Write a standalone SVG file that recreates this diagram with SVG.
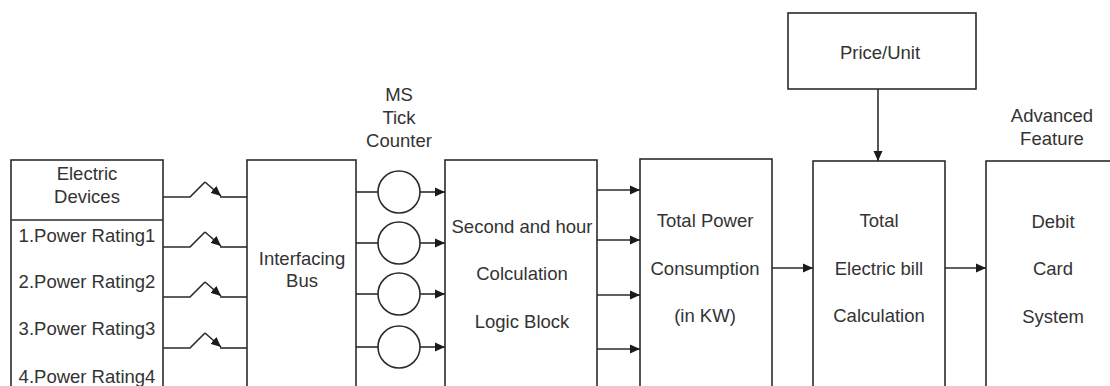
<svg xmlns="http://www.w3.org/2000/svg" width="1110" height="386" viewBox="0 0 1110 386">
<style>
.box{fill:#fff;stroke:#2b2b2b;stroke-width:1.6}
.ln{fill:none;stroke:#2b2b2b;stroke-width:1.6}
.ar{fill:none;stroke:#2b2b2b;stroke-width:1.6;marker-end:url(#ah)}
text{font-family:"Liberation Sans",Arial,sans-serif;font-size:18.5px;fill:#333;text-anchor:middle}
</style>
<defs>
<marker id="ah" viewBox="0 0 10 10" refX="10" refY="5" markerWidth="10" markerHeight="10" markerUnits="userSpaceOnUse" orient="auto">
<path d="M0,0.5 L10,5 L0,9.5 Z" fill="#1a1a1a"/>
</marker>
</defs>
<rect width="1110" height="386" fill="#fff"/>

<g id="electric-devices">
<rect class="box" x="11" y="160" width="152" height="240"/>
<line class="ln" x1="11" y1="220" x2="163" y2="220"/>
<text x="87" y="180">Electric</text>
<text x="87" y="203">Devices</text>
<text x="87" y="242">1.Power Rating1</text>
<text x="87" y="288">2.Power Rating2</text>
<text x="87" y="335">3.Power Rating3</text>
<text x="87" y="383">4.Power Rating4</text>
</g>

<g id="interfacing-bus">
<rect class="box" x="247" y="160" width="109" height="240"/>
<text x="302" y="265">Interfacing</text>
<text x="302" y="287">Bus</text>
</g>

<g id="ms-tick-counter">
<text x="399" y="101">MS</text>
<text x="399" y="124">Tick</text>
<text x="399" y="147">Counter</text>
<circle class="box" cx="399" cy="192" r="21"/>
<circle class="box" cx="399" cy="243" r="21"/>
<circle class="box" cx="399" cy="294" r="21"/>
<circle class="box" cx="399" cy="347" r="21"/>
</g>

<g id="logic-block">
<rect class="box" x="445" y="160" width="152" height="240"/>
<text x="522" y="233">Second and hour</text>
<text x="522" y="280">Colculation</text>
<text x="522" y="328">Logic Block</text>
</g>

<g id="total-power">
<rect class="box" x="640" y="159" width="132" height="241"/>
<text x="705" y="227">Total Power</text>
<text x="705" y="275">Consumption</text>
<text x="705" y="322">(in KW)</text>
</g>

<g id="price-unit">
<rect class="box" x="788" y="13" width="188" height="76"/>
<text x="880" y="59">Price/Unit</text>
</g>

<g id="electric-bill">
<rect class="box" x="813" y="161" width="132" height="239"/>
<text x="879" y="227">Total</text>
<text x="879" y="275">Electric bill</text>
<text x="879" y="322">Calculation</text>
</g>

<g id="debit-card">
<text x="1052" y="122">Advanced</text>
<text x="1052" y="145">Feature</text>
<rect class="box" x="986" y="161" width="140" height="239"/>
<text x="1053" y="228">Debit</text>
<text x="1053" y="275">Card</text>
<text x="1053" y="323">System</text>
</g>

<g id="connectors">
<!-- switches -->
<polyline class="ln" points="163,197 190,197 205,182"/>
<line class="ar" x1="205" y1="182" x2="221" y2="196"/>
<line class="ln" x1="220" y1="197" x2="247" y2="197"/>

<polyline class="ln" points="163,247 190,247 205,232"/>
<line class="ar" x1="205" y1="232" x2="221" y2="246"/>
<line class="ln" x1="220" y1="247" x2="247" y2="247"/>

<polyline class="ln" points="163,297 190,297 205,282"/>
<line class="ar" x1="205" y1="282" x2="221" y2="296"/>
<line class="ln" x1="220" y1="297" x2="247" y2="297"/>

<polyline class="ln" points="163,348 190,348 205,333"/>
<line class="ar" x1="205" y1="333" x2="221" y2="347"/>
<line class="ln" x1="220" y1="348" x2="247" y2="348"/>

<!-- bus to counters -->
<line class="ln" x1="356" y1="192" x2="378" y2="192"/>
<line class="ln" x1="356" y1="243" x2="378" y2="243"/>
<line class="ln" x1="356" y1="294" x2="378" y2="294"/>
<line class="ln" x1="356" y1="347" x2="378" y2="347"/>
<!-- counters to logic -->
<line class="ar" x1="420" y1="192" x2="445" y2="192"/>
<line class="ar" x1="420" y1="243" x2="445" y2="243"/>
<line class="ar" x1="420" y1="294" x2="445" y2="294"/>
<line class="ar" x1="420" y1="347" x2="445" y2="347"/>
<!-- logic to total power -->
<line class="ar" x1="597" y1="190" x2="640" y2="190"/>
<line class="ar" x1="597" y1="240" x2="640" y2="240"/>
<line class="ar" x1="597" y1="295" x2="640" y2="295"/>
<line class="ar" x1="597" y1="349" x2="640" y2="349"/>
<!-- total power to bill -->
<line class="ar" x1="772" y1="268" x2="813" y2="268"/>
<!-- price to bill -->
<line class="ar" x1="878" y1="89" x2="878" y2="161"/>
<!-- bill to debit -->
<line class="ar" x1="945" y1="268" x2="986" y2="268"/>
</g>
</svg>
